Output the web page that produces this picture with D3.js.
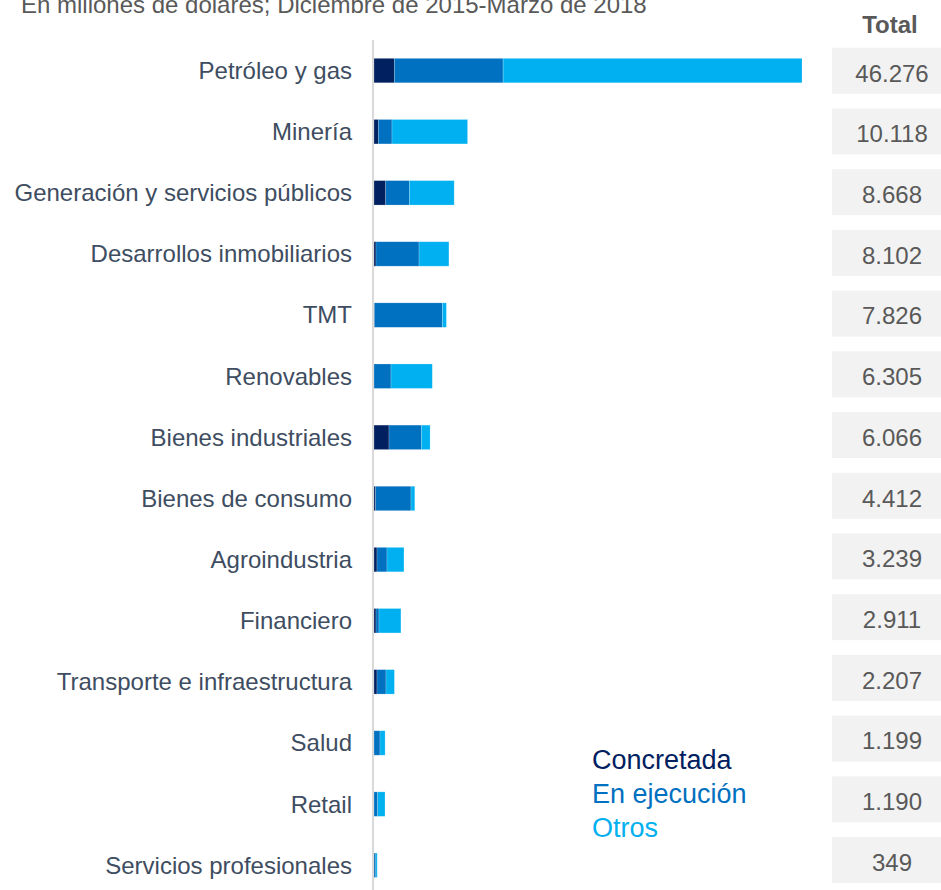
<!DOCTYPE html>
<html>
<head>
  <meta charset="UTF-8">
  <title>Inversión por sector</title>
  <script src="https://d3js.org/d3.v7.min.js"></script>
  <style>
    body { margin: 0; background: #fff; font-family: "Liberation Sans", Arial, sans-serif; }
  </style>
</head>
<body>
  <div id="chart"></div>
  <script>
    const categories = [
      "Petróleo y gas", "Minería", "Generación y servicios públicos",
      "Desarrollos inmobiliarios", "TMT", "Renovables", "Bienes industriales",
      "Bienes de consumo", "Agroindustria", "Financiero",
      "Transporte e infraestructura", "Salud", "Retail", "Servicios profesionales"
    ];
    const concretada  = [2200, 465, 1266, 216, 40, 0, 1623, 180, 325, 216, 325, 0, 0, 0];
    const enEjecucion = [11760, 1482, 2554, 4653, 7358, 1839, 3495, 3820, 1082, 325, 974, 650, 400, 200];
    const otros       = [32316, 8171, 4848, 3233, 428, 4466, 948, 412, 1832, 2370, 908, 549, 790, 149];
    const totals      = [46276, 10118, 8668, 8102, 7826, 6305, 6066, 4412, 3239, 2911, 2207, 1199, 1190, 349];
    const totalLabels = ["46.276", "10.118", "8.668", "8.102", "7.826", "6.305", "6.066",
                         "4.412", "3.239", "2.911", "2.207", "1.199", "1.190", "349"];
    const seriesNames = ["Concretada", "En ejecución", "Otros"];
    const colors = ["#002060", "#0070C0", "#00B0F0"];

    const width = 941, height = 890;

    const svg = d3.select("#chart").append("svg")
      .attr("width", width)
      .attr("height", height)
      .style("display", "block");

    const rows = categories.map((c, i) => ({
      cat: c, "Concretada": concretada[i], "En ejecución": enEjecucion[i], "Otros": otros[i]
    }));
    const stacked = d3.stack().keys(seriesNames)(rows);

    const x = d3.scaleLinear().domain([0, d3.max(totals)]).range([374, 802]);
    const y = d3.scaleBand().domain(categories).range([40, 895.8])
      .paddingInner(0.6).paddingOuter(0.3);
    const yBox = d3.scaleBand().domain(categories).range([40.4, 890.4])
      .paddingInner(0.242).paddingOuter(0.121);

    // subtitle (cut at top in the original)
    svg.append("text")
      .attr("x", 21).attr("y", 13)
      .attr("font-size", 24).attr("fill", "#595959")
      .text("En millones de dólares; Diciembre de 2015-Marzo de 2018");

    // category labels
    svg.append("g").selectAll("text")
      .data(categories)
      .join("text")
      .attr("x", 352)
      .attr("y", d => y(d) + y.bandwidth() / 2)
      .attr("dy", "0.35em")
      .attr("text-anchor", "end")
      .attr("font-size", 24)
      .attr("fill", "#3E4D61")
      .text(d => d);

    // bars
    svg.append("g").selectAll("g")
      .data(stacked)
      .join("g")
      .attr("fill", (d, i) => colors[i])
      .selectAll("rect")
      .data(d => d)
      .join("rect")
      .attr("x", d => x(d[0]))
      .attr("y", d => y(d.data.cat))
      .attr("width", d => Math.max(0, x(d[1]) - x(d[0])))
      .attr("height", y.bandwidth())
      .attr("stroke", "#fff")
      .attr("stroke-opacity", 0.3)
      .attr("stroke-width", 0.7);

    // vertical axis line
    svg.append("line")
      .attr("x1", 373).attr("x2", 373)
      .attr("y1", 40).attr("y2", 890)
      .attr("stroke", "#d9d9d9").attr("stroke-width", 2);

    // totals column
    svg.append("text")
      .attr("x", 890).attr("y", 33)
      .attr("text-anchor", "middle")
      .attr("font-size", 24).attr("font-weight", "bold")
      .attr("fill", "#595959")
      .text("Total");

    svg.append("g").selectAll("rect")
      .data(categories)
      .join("rect")
      .attr("x", 832)
      .attr("y", d => yBox(d))
      .attr("width", 120)
      .attr("height", yBox.bandwidth())
      .attr("fill", "#f2f2f2");

    svg.append("g").selectAll("text")
      .data(categories)
      .join("text")
      .attr("x", 892)
      .attr("y", (d, i) => yBox(d) + yBox.bandwidth() / 2)
      .attr("dy", "0.45em")
      .attr("text-anchor", "middle")
      .attr("font-size", 24)
      .attr("fill", "#595959")
      .text((d, i) => totalLabels[i]);

    // legend
    svg.append("g").selectAll("text")
      .data(seriesNames)
      .join("text")
      .attr("x", 592)
      .attr("y", (d, i) => 769 + i * 34)
      .attr("font-size", 27)
      .attr("fill", (d, i) => colors[i])
      .text(d => d);
  </script>
</body>
</html>
